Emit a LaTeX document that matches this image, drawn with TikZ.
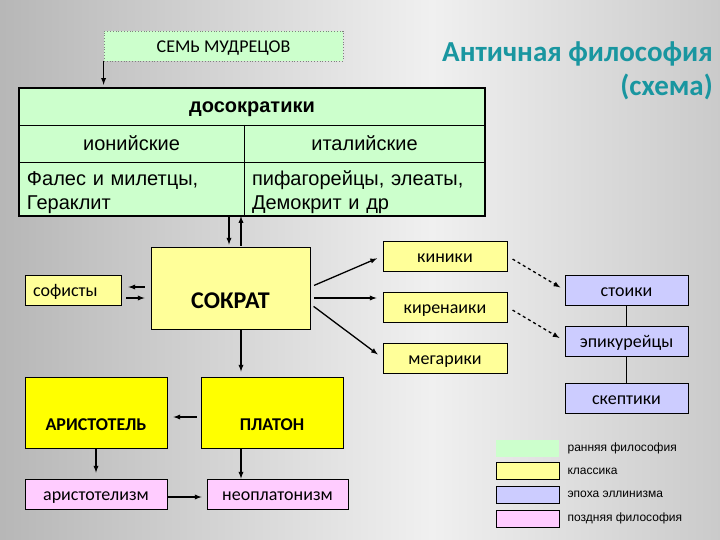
\documentclass[tikz,border=0pt]{standalone}
\usepackage{fontspec}
\setmainfont{Carlito}
\newfontfamily\arialfont{Liberation Sans}
\usepackage{tikz}
\usetikzlibrary{arrows,calc,positioning}
\usepackage{xcolor}
\definecolor{early}{HTML}{CCFFCC}
\definecolor{classic}{HTML}{FFFF99}
\definecolor{strong}{HTML}{FFFF00}
\definecolor{hellen}{HTML}{CCCCFF}
\definecolor{late}{HTML}{FFCCFF}
\definecolor{titlecol}{RGB}{25,150,160}
\definecolor{bgL}{RGB}{135,135,135}
\definecolor{bgM}{RGB}{240,240,240}
\definecolor{bgR}{RGB}{155,155,155}
\pgfdeclarehorizontalshading{bgshade}{100bp}{color(0bp)=(bgL); color(55bp)=(bgM); color(100bp)=(bgR)}

\begin{document}
\begin{tikzpicture}[x=1pt,y=-1pt,>=latex,
    box/.style={draw,line width=0.8pt,inner sep=0pt,minimum height=30pt,text height=12.5pt,text depth=0pt,
        font=\fontsize{18}{21}\selectfont},
    cell/.style={inner sep=0pt,font=\arialfont\fontsize{20}{24}\selectfont},
    conn/.style={line width=1.3pt,->}]
    \shade[shading=bgshade] (0,0) rectangle (720,540);

    \node[anchor=north east,align=right,inner sep=0pt,text=titlecol,
        font=\bfseries\fontsize{29}{34}\selectfont] (title) at (713,42) {Античная философия\\(схема)};

    \node[box,fill=early,draw=gray,dotted,minimum width=239pt] (sem) at (223.5,46) {СЕМЬ МУДРЕЦОВ};

    % досократики
    \node[cell,fill=early,minimum width=466pt,minimum height=37pt,text height=16.4pt,text depth=4pt,
        font=\arialfont\bfseries\fontsize{20}{24}\selectfont] (dos) at (252,106.5) {досократики};
    \node[cell,fill=early,minimum width=225pt,minimum height=37pt] (ion) at (131.5,143.5) {ионийские};
    \node[cell,fill=early,minimum width=241pt,minimum height=37pt] (ital) at (364.5,143.5) {италийские};
    \node[cell,fill=early,minimum height=54pt,text width=209pt,inner xsep=8pt,text height=20.6pt] (fal) at (131.5,189) {Фалес и милетцы,\\Гераклит};
    \node[cell,fill=early,minimum height=54pt,text width=225pt,inner xsep=8pt,text height=20.6pt] (pif) at (364.5,189) {пифагорейцы, элеаты,\\Демокрит и др};
    \draw (dos.south west) -- (dos.south east);
    \draw (ion.south west) -- (ital.south east);
    \draw (ion.north east) -- (fal.south east);
    \draw[line width=2pt] (dos.north west) rectangle (pif.south east);

    \node[box,fill=classic,minimum width=159pt,minimum height=82pt,text height=41pt,text depth=0pt,
        font=\bfseries\fontsize{24}{28}\selectfont] (sokr) at (230.5,288) {СОКРАТ};
    \node[box,fill=classic,minimum width=96pt,text width=80pt,inner xsep=8pt] (sof) at (73,290) {софисты};

    \node[box,fill=classic,minimum width=124pt] (kin) at (445,256) {киники};
    \node[box,fill=classic,minimum width=124pt] (kir) at (445,307) {киренаики};
    \node[box,fill=classic,minimum width=124pt] (meg) at (445,358) {мегарики};

    \node[box,fill=hellen,minimum width=123pt] (sto) at (626.5,290) {стоики};
    \node[box,fill=hellen,minimum width=123pt] (epi) at (626.5,341) {эпикурейцы};
    \node[box,fill=hellen,minimum width=123pt] (skep) at (626.5,398) {скептики};

    \node[box,fill=strong,minimum width=142pt,minimum height=71pt,text height=36.6pt,text depth=0pt,
        font=\bfseries\fontsize{18}{22}\selectfont] (arist) at (96,412.5) {АРИСТОТЕЛЬ};
    \node[box,fill=strong,minimum width=142pt,minimum height=71pt,text height=36.6pt,text depth=0pt,
        font=\bfseries\fontsize{18}{22}\selectfont] (plat) at (272,412.5) {ПЛАТОН};

    \node[box,fill=late,minimum width=142pt] (aristm) at (96,494) {аристотелизм};
    \node[box,fill=late,minimum width=141pt] (neo) at (277.5,494) {неоплатонизм};

    % легенда
    \tikzset{swatch/.style={draw,line width=0.8pt,minimum width=63pt,minimum height=17pt,inner sep=0pt},
        legtext/.style={inner sep=0pt,font=\arialfont\fontsize{12}{14}\selectfont}}
    \node[swatch,fill=early,draw=none] (lg1) at (527.5,448) {};
    \node[swatch,fill=classic] (lg2) at (527.5,471) {};
    \node[swatch,fill=hellen] (lg3) at (527.5,494.5) {};
    \node[swatch,fill=late] (lg4) at (527.5,518.5) {};
    \node[legtext,right=8pt of lg1] {ранняя философия};
    \node[legtext,right=8pt of lg2] {классика};
    \node[legtext,right=8pt of lg3] {эпоха эллинизма};
    \node[legtext,right=8pt of lg4] {поздняя философия};

    % стрелки
    \draw[conn,shorten >=3pt] (sem.south west) -- (sem.south west |- dos.north);
    \draw[conn,shorten >=2pt] ([xshift=-1.5pt]sokr.north |- fal.south) -- ([xshift=-1.5pt]sokr.north);
    \draw[conn,shorten <=1pt] ([xshift=10.5pt]sokr.north) -- ([xshift=10.5pt]sokr.north |- fal.south);
    \draw[conn,shorten <=6pt,shorten >=7pt] ([yshift=1pt]sokr.west) -- ([yshift=1pt]sokr.west -| sof.east);
    \draw[conn,shorten <=5pt,shorten >=6pt] ([yshift=-10pt]sokr.west -| sof.east) -- ([yshift=-10pt]sokr.west);
    \draw[conn,shorten <=4pt,shorten >=6pt] ([yshift=1pt]sokr.east) -- (kin.west);
    \draw[conn,shorten <=4pt,shorten >=6pt] ([yshift=-10pt]sokr.east) -- ([yshift=9pt]kir.west);
    \draw[conn,shorten <=4pt,shorten >=6pt] ([yshift=-16pt]sokr.east) -- (meg.west);
    \draw[conn,dashed,shorten <=6pt,shorten >=5pt] (kin.east) -- (sto.west);
    \draw[conn,dashed,shorten <=6pt,shorten >=6pt] (kir.east) -- (epi.west);
    \draw[line width=1pt] (sto.south) -- (epi.north);
    \draw[line width=1pt] (epi.south) -- (skep.north);
    \draw[conn,shorten >=5pt] ([xshift=10.5pt]sokr.south) -- ([xshift=10.5pt]sokr.south |- plat.north);
    \draw[conn,shorten <=4pt,shorten >=6pt] ([yshift=-4.5pt]plat.west) -- ([yshift=-4.5pt]arist.east);
    \draw[conn,shorten >=6pt] (arist.south) -- (aristm.north);
    \draw[conn] ([xshift=-31pt]plat.south) -- ([xshift=-31pt]plat.south |- neo.north);
    \draw[conn,shorten <=1pt,shorten >=5pt] ([yshift=-3pt]aristm.east) -- ([yshift=-3pt]neo.west);
\end{tikzpicture}
\end{document}
